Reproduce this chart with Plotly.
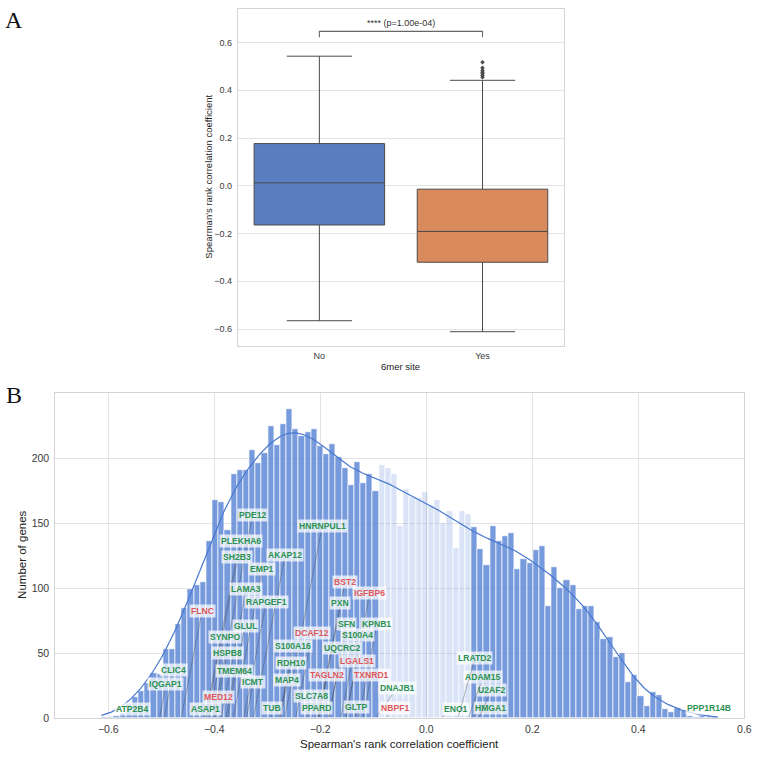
import numpy as np
import plotly.graph_objects as go

# ---------------- Panel A data (box plot) ----------------
box_groups = ["No", "Yes"]
box_q1 = [-0.164, -0.320]
box_median = [0.0125, -0.191]
box_q3 = [0.177, -0.014]
box_lower = [-0.565, -0.611]
box_upper = [0.543, 0.442]
yes_outliers = [0.518, 0.494, 0.483, 0.476, 0.470, 0.462, 0.455]
box_colors = ["#597dbf", "#d98b5e"]
pvalue_text = "**** (p=1.00e-04)"
a_yticks = [-0.6, -0.4, -0.2, 0.0, 0.2, 0.4, 0.6]
a_yticklabels = ["\u22120.6", "\u22120.4", "\u22120.2", "0.0", "0.2", "0.4", "0.6"]

# ---------------- Panel B data (histogram) ----------------
hist_start = -0.613
hist_bin_width = 0.01163
hist_counts = [1, 1, 2, 4, 11, 16, 21, 27, 35, 34,
               53, 53, 72, 85, 99, 102, 105, 136, 168, 166,
               145, 188, 191, 191, 206, 196, 204, 225, 210, 226,
               238, 222, 217, 220, 222, 209, 203, 211, 201, 192,
               179, 197, 181, 188, 175, 195, 192, 188, 148, 176,
               170, 169, 174, 164, 168, 150, 159, 131, 159, 157,
               147, 130, 118, 148, 136, 140, 142, 115, 122, 119,
               129, 132, 86, 116, 100, 106, 102, 84, 86, 86,
               74, 61, 62, 47, 50, 28, 33, 17, 9, 20,
               18, 7, 5, 8, 6, 2, 1, 2, 1, 1]
ns_low, ns_high = -0.0897, 0.0848
b_xticks = [-0.6, -0.4, -0.2, 0.0, 0.2, 0.4, 0.6]
b_xticklabels = ["\u22120.6", "\u22120.4", "\u22120.2", "0.0", "0.2", "0.4", "0.6"]
b_yticks = [0, 50, 100, 150, 200]

genes = ["PDE12", "HNRNPUL1", "PLEKHA6", "SH2B3", "AKAP12", "EMP1", "LAMA3", "RAPGEF1",
         "BST2", "IGFBP6", "PXN", "FLNC", "GLUL", "SFN", "KPNB1", "DCAF12", "SYNPO",
         "S100A4", "S100A16", "UQCRC2", "HSPB8", "RDH10", "LGALS1", "TMEM64", "CLIC4",
         "TAGLN2", "TXNRD1", "MAP4", "ICMT", "IQGAP1", "DNAJB1", "SLC7A8", "MED12", "GLTP",
         "ATP2B4", "ASAP1", "TUB", "PPARD", "NBPF1", "ENO1", "HMGA1", "U2AF2", "ADAM15",
         "LRATD2", "PPP1R14B"]
gene_corr = [-0.402, -0.267, -0.415, -0.417, -0.326, -0.364, -0.387, -0.344,
             -0.203, -0.152, -0.204, -0.462, -0.375, -0.184, -0.127, -0.246, -0.410,
             -0.161, -0.277, -0.184, -0.399, -0.275, -0.151, -0.378, -0.494,
             -0.202, -0.119, -0.277, -0.339, -0.503, -0.094, -0.224, -0.398, -0.134,
             -0.556, -0.419, -0.293, -0.209, -0.075, 0.030, 0.085, 0.100, 0.080,
             0.060, 0.532]
label_x = [-0.3277, -0.1963, -0.3495, -0.3581, -0.266, -0.3095, -0.3394, -0.302,
           -0.1533, -0.1065, -0.1626, -0.423, -0.342, -0.150, -0.0935, -0.215, -0.3806,
           -0.1308, -0.251, -0.1589, -0.3757, -0.2553, -0.1314, -0.3613, -0.4772,
           -0.1869, -0.1039, -0.2636, -0.3264, -0.4916, -0.0553, -0.2174, -0.3912, -0.1314,
           -0.5538, -0.4168, -0.2908, -0.2075, -0.0598, 0.0561, 0.1204, 0.1228, 0.1065,
           0.0916, 0.534]
label_y = [156.1, 147.9, 136.5, 123.7, 125.8, 114.9, 99.6, 89.4,
           104.7, 96.6, 88.2, 82.5, 70.9, 72.4, 72.2, 65.5, 62.2,
           63.8, 55.6, 53.9, 50.0, 42.4, 43.6, 36.5, 36.9,
           33.5, 33.5, 29.7, 27.9, 25.9, 23.3, 16.9, 16.2, 8.8,
           7.3, 7.3, 7.6, 7.6, 7.6, 7.0, 8.1, 21.5, 31.4,
           46.2, 7.6]
red_genes = ["BST2", "IGFBP6", "FLNC", "DCAF12", "LGALS1", "TAGLN2", "TXNRD1", "MED12", "NBPF1"]

# ---------------- styling ----------------
FONT = "Liberation Sans"
BLUE = "#4878d0"
GRID = "#e3e3e3"
EDGE = "#d4d4d4"
TICKC = "#3a3a3a"
GREEN_T = "#2b9150"
RED_T = "#e0575a"

W, H = 763, 759
def px_x(p):
    return p / W
def px_y(p):
    return 1 - p / H

fig = go.Figure()

# ---- Panel A: boxes ----
for i, g in enumerate(box_groups):
    fig.add_trace(go.Box(
        x=[i], q1=[box_q1[i]], median=[box_median[i]], q3=[box_q3[i]],
        lowerfence=[box_lower[i]], upperfence=[box_upper[i]],
        width=0.8, whiskerwidth=0.5, fillcolor=box_colors[i],
        line=dict(color="#4a4a4a", width=1.0), boxpoints=False,
        xaxis="x", yaxis="y", showlegend=False, hoverinfo="skip"))

fig.add_trace(go.Scatter(
    x=[1] * len(yes_outliers), y=yes_outliers, mode="markers",
    marker=dict(symbol="diamond", size=3.5, color="#4a4a4a"),
    xaxis="x", yaxis="y", showlegend=False, hoverinfo="skip"))

# significance bracket
fig.add_trace(go.Scatter(
    x=[0, 0, 1, 1], y=[0.622, 0.647, 0.647, 0.622], mode="lines",
    line=dict(color="#666666", width=1.1),
    xaxis="x", yaxis="y", showlegend=False, hoverinfo="skip"))

# ---- Panel B: histogram ----
counts = np.array(hist_counts, dtype=float)
nb = len(counts)
centers = hist_start + hist_bin_width * (np.arange(nb) + 0.5)
in_ns = (centers > ns_low) & (centers < ns_high)
bar_colors = ["rgba(72,120,208,0.20)" if f else "rgba(72,120,208,0.75)" for f in in_ns]

fig.add_trace(go.Bar(
    x=centers, y=counts, width=hist_bin_width,
    marker=dict(color=bar_colors, line=dict(color="white", width=0.7)),
    xaxis="x2", yaxis="y2", showlegend=False, hoverinfo="skip"))

# KDE from the histogram counts (Scott bandwidth), scaled to counts
N = counts.sum()
mean = (centers * counts).sum() / N
std = np.sqrt(((centers - mean) ** 2 * counts).sum() / N)
bw = std * N ** (-0.2)
grid = np.linspace(hist_start, hist_start + nb * hist_bin_width, 400)
dens = (counts[None, :] * np.exp(-0.5 * ((grid[:, None] - centers[None, :]) / bw) ** 2)).sum(1)
dens = dens / (N * bw * np.sqrt(2 * np.pi))
kde = dens * N * hist_bin_width
fig.add_trace(go.Scatter(
    x=grid, y=kde, mode="lines", line=dict(color=BLUE, width=1.2),
    xaxis="x2", yaxis="y2", showlegend=False, hoverinfo="skip"))

annotations = []
# gene labels with leader lines
for g, c, lx, ly in zip(genes, gene_corr, label_x, label_y):
    col = RED_T if g in red_genes else GREEN_T
    annotations.append(dict(
        x=c, y=1.0, xref="x2", yref="y2",
        ax=lx, ay=ly, axref="x2", ayref="y2",
        text="<b>" + g + "</b>", showarrow=True, arrowhead=0,
        arrowwidth=0.5, arrowcolor="rgba(60,60,60,0.7)", standoff=0,
        font=dict(family=FONT, size=8.6, color=col),
        bgcolor="rgba(255,255,255,0.72)", borderpad=1))

# p-value text
annotations.append(dict(x=0.5, y=0.652, xref="x", yref="y", text=pvalue_text,
                        showarrow=False, xanchor="center", yanchor="bottom",
                        font=dict(family=FONT, size=9, color="#333333")))

def paper_text(x, y, text, size, family=FONT, angle=0, color="#222222"):
    return dict(x=px_x(x), y=px_y(y), xref="paper", yref="paper", text=text,
                textangle=angle, xanchor="center", yanchor="middle", showarrow=False,
                font=dict(family=family, size=size, color=color))

# axis titles and panel letters
annotations += [
    paper_text(404.5, 369, "6mer site", 9.5),
    paper_text(210.5, 178.5, "Spearman's rank correlation coefficient", 9.5, angle=-90),
    paper_text(403.5, 749.5, "Spearman's rank correlation coefficient", 11.5),
    paper_text(22, 559.5, "Number of genes", 11.5, angle=-90),
    paper_text(14, 20, "A", 24, family="Liberation Serif", color="#111111"),
    paper_text(14, 398, "B", 24, family="Liberation Serif", color="#111111"),
]

axis_common = dict(showline=True, mirror=True, linecolor=EDGE, linewidth=1,
                   zeroline=False, ticks="")

fig.update_layout(
    width=W, height=H, margin=dict(l=0, r=0, t=0, b=0),
    paper_bgcolor="white", plot_bgcolor="white", bargap=0,
    showlegend=False, annotations=annotations,
    xaxis=dict(domain=[px_x(240), px_x(569.3)], range=[-0.5, 1.5],
               tickvals=[0, 1], ticktext=box_groups, showgrid=False,
               anchor="y", ticklabelstandoff=2,
               tickfont=dict(family=FONT, size=9, color=TICKC), **axis_common),
    yaxis=dict(domain=[px_y(348.3), px_y(9)], range=[-0.669, 0.741],
               tickvals=a_yticks, ticktext=a_yticklabels, showgrid=True, gridcolor=GRID,
               anchor="x", ticklabelstandoff=3,
               tickfont=dict(family=FONT, size=9, color=TICKC), **axis_common),
    xaxis2=dict(domain=[px_x(55.8), px_x(751.3)], range=[-0.7, 0.6],
                tickvals=b_xticks, ticktext=b_xticklabels, showgrid=True, gridcolor=GRID,
                anchor="y2", ticklabelstandoff=1,
                tickfont=dict(family=FONT, size=10.5, color=TICKC), **axis_common),
    yaxis2=dict(domain=[px_y(723.9), px_y(396.2)], range=[0, 250],
                tickvals=b_yticks, showgrid=True, gridcolor=GRID,
                anchor="x2", ticklabelstandoff=3,
                tickfont=dict(family=FONT, size=10.5, color=TICKC), **axis_common),
)

fig.write_html("out.html")
